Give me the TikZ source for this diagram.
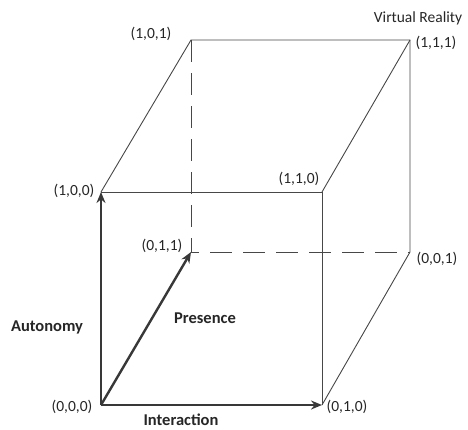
\documentclass[tikz,border=0pt]{standalone}
\usepackage{fontspec}
\setmainfont{Carlito}
\usetikzlibrary{arrows.meta}
\begin{document}
\begin{tikzpicture}[x=1pt,y=-1pt,
  edge/.style={draw=black!72,line width=0.9pt},
  hidden/.style={draw=black!72,line width=0.9pt,dash pattern=on 22pt off 11pt},
  axis/.style={draw=black!78,line width=2.4pt,-{Stealth[length=11pt,width=9pt]}},
  lbl/.style={font=\fontsize{15.5}{17}\selectfont,text=black!85,inner sep=0pt},
  blbl/.style={font=\fontsize{16.5}{18}\selectfont\bfseries,text=black!85,inner sep=0pt}]
\useasboundingbox (0,0) rectangle (468,429);
% vertices
\coordinate (v000) at (101,405);
\coordinate (v010) at (322,405);
\coordinate (v100) at (101,192);
\coordinate (v110) at (322,192);
\coordinate (v011) at (191,252);
\coordinate (v001) at (410,252);
\coordinate (v101) at (191,40);
\coordinate (v111) at (410,40);
% visible edges
\draw[edge] (v100) -- (v110) -- (v010);
\draw[edge] (v100) -- (v101) -- (v111) -- (v001) -- (v010);
\draw[edge] (v110) -- (v111);
% hidden edges
\draw[hidden] (v101) -- (v011) -- (v001);
% axes
\draw[axis] (v000) -- (v100);
\draw[axis] (v000) -- (v011);
\draw[axis] (v000) -- (v010);
% labels
\node[lbl] (l101) at (151,34) {(1,0,1)};
\node[lbl] (l111) at (436,43) {(1,1,1)};
\node[lbl] (lvr) at (418,18) {Virtual Reality};
\node[lbl] (l100) at (74,191) {(1,0,0)};
\node[lbl] (l110) at (299,179) {(1,1,0)};
\node[lbl] (l011) at (162,246) {(0,1,1)};
\node[lbl] (l001) at (437,259) {(0,0,1)};
\node[lbl] (l000) at (72,407) {(0,0,0)};
\node[lbl] (l010) at (347,407) {(0,1,0)};
\node[blbl] (laut) at (47,327) {Autonomy};
\node[blbl] (lpre) at (205,318) {Presence};
\node[blbl] (lint) at (181,420) {Interaction};
\end{tikzpicture}
\end{document}
